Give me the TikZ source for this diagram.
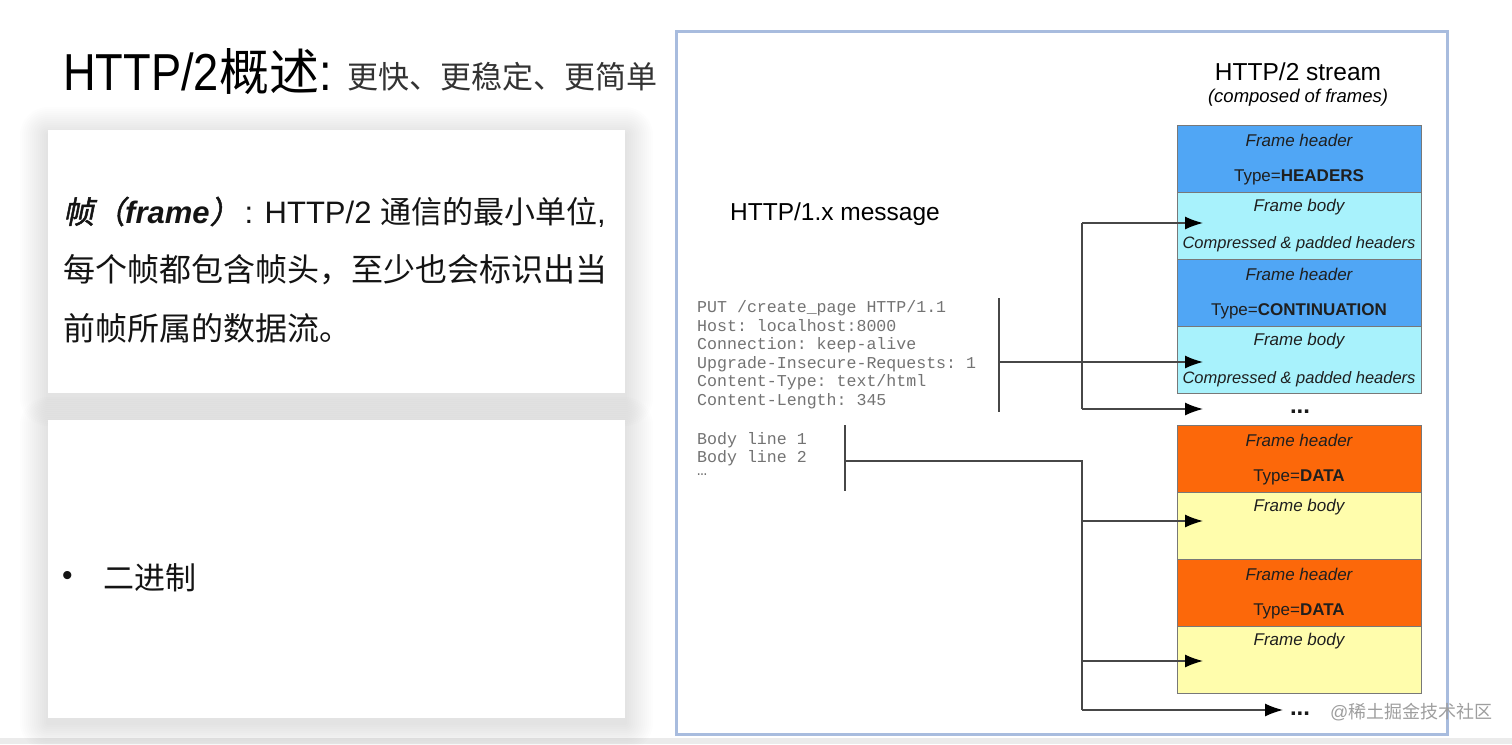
\documentclass[tikz,border=0pt]{standalone}
\usepackage{fontspec}
\setmainfont{Liberation Sans}
\setmonofont{Liberation Mono}
\newfontfamily\cjk{Noto Sans CJK SC}
\newfontfamily\cjkbi[FakeSlant=0.2,FakeBold=1.5]{Noto Sans CJK SC}
\newfontfamily\narrowsans[FakeStretch=0.87]{Liberation Sans}
\usetikzlibrary{arrows.meta}
\definecolor{hblue}{RGB}{80,166,245}
\definecolor{bcyan}{RGB}{168,242,252}
\definecolor{horange}{RGB}{252,104,10}
\definecolor{byellow}{RGB}{255,253,172}
\definecolor{panelblue}{RGB}{168,188,222}
\definecolor{framegray}{RGB}{120,120,120}
\begin{document}
\begin{tikzpicture}[x=1pt,y=-1pt,
  framebox/.style={draw=framegray, line width=1pt, minimum width=244pt, minimum height=67pt, inner sep=0pt},
  hdrB/.style={framebox, fill=hblue},
  bodyC/.style={framebox, fill=bcyan},
  hdrO/.style={framebox, fill=horange},
  bodyY/.style={framebox, fill=byellow},
  ftxt/.style={font=\fontsize{17}{20}\selectfont, text=black!88, inner sep=0pt},
  mono/.style={font=\ttfamily\fontsize{16.6}{19}\selectfont, text=black!55, anchor=west, inner sep=0pt},
  conn/.style={draw=black!72, line width=1.5pt},
  arr/.style={conn, -{Latex[length=18pt,width=13pt,color=black]}},
  card/.style={fill=white, draw=none},
  cardtxt/.style={anchor=west, inner sep=0pt, text=black!92},
  dots/.style={font=\fontsize{24}{26}\selectfont\bfseries, inner sep=0pt, text=black!90, anchor=base},
]
\useasboundingbox (0,0) rectangle (1512,744);
\fill[white] (0,0) rectangle (1512,744);
% bottom strip
\fill[black!8] (0,738) rectangle (1512,744);

% card shadows (soft)
\foreach \i in {1,...,14} {
  \fill[black, opacity=0.007, rounded corners=2*\i pt] (48-2*\i,130-2*\i+5) rectangle (625+2*\i,393+2*\i+5);
  \fill[black, opacity=0.007, rounded corners=2*\i pt] (48-2*\i,420-2*\i+5) rectangle (625+2*\i,718+2*\i+5);
}
\fill[card] (48,130) rectangle (625,393);
\fill[card] (48,420) rectangle (625,718);

% title
\node[anchor=base west, inner sep=0pt] (title) at (63,90)
  {\fontsize{52}{56}\selectfont\narrowsans HTTP/2{\cjk\fontsize{50}{56}\selectfont 概述}:};
\node[anchor=base west, inner sep=0pt, text=black!80] (subtitle) at (347,88)
  {\cjk\fontsize{31}{34}\selectfont 更快、更稳定、更简单};

% card 1 text
\node[cardtxt] (c1l1) at (63,212)
  {\fontsize{31}{36}\selectfont{\cjkbi 帧（}{\bfseries\itshape frame}{\cjkbi ）}\hspace{4pt}: HTTP/2 {\cjk 通信的最小单位},};
\node[cardtxt] (c1l2) at (63,270)
  {\cjk\fontsize{32}{36}\selectfont 每个帧都包含帧头，至少也会标识出当};
\node[cardtxt] (c1l3) at (63,328)
  {\cjk\fontsize{32}{36}\selectfont 前帧所属的数据流。};

% card 2 text
\node[cardtxt] (bullet) at (62,578) {\fontsize{30}{34}\selectfont •};
\node[cardtxt] (c2l1) at (103,578) {\cjk\fontsize{31}{34}\selectfont 二进制};

% right panel
\fill[white] (676,31) rectangle (1447,734);
\draw[panelblue, line width=3pt] (676,31) rectangle (1447,734);

\node[inner sep=0pt] (streamtitle) at (1298,72) {\fontsize{24.5}{28}\selectfont HTTP/2 stream};
\node[inner sep=0pt] (streamsub) at (1298,98) {\fontsize{18.5}{22}\selectfont\itshape (composed of frames)};
\node[anchor=west, inner sep=0pt] (msgtitle) at (730,214) {\fontsize{24.5}{28}\selectfont HTTP/1.x message};

% HTTP/1.x message text
\node[mono] (m1) at (697,308) {PUT /create\_page HTTP/1.1};
\node[mono] (m2) at (697,326) {Host: localhost:8000};
\node[mono] (m3) at (697,345) {Connection: keep-alive};
\node[mono] (m4) at (697,364) {Upgrade-Insecure-Requests: 1};
\node[mono] (m5) at (697,382) {Content-Type: text/html};
\node[mono] (m6) at (697,401) {Content-Length: 345};
\node[mono] (m7) at (697,440) {Body line 1};
\node[mono] (m8) at (697,458) {Body line 2};
\node[mono] (m9) at (697,475) {…};

% frames
\node[hdrB] (h1) at (1299,158.5) {};
\node[bodyC] (b1) at (1299,225.5) {};
\node[hdrB] (h2) at (1299,292.5) {};
\node[bodyC] (b2) at (1299,359.5) {};
\node[hdrO] (h3) at (1299,458.5) {};
\node[bodyY] (b3) at (1299,525.5) {};
\node[hdrO] (h4) at (1299,592.5) {};
\node[bodyY] (b4) at (1299,659.5) {};

\node[ftxt] (h1a) at (1299,140) {\itshape Frame header};
\node[ftxt] (h1b) at (1299,177) {Type=\textbf{HEADERS}};
\node[ftxt] (b1a) at (1299,207) {\itshape Frame body};
\node[ftxt, font=\fontsize{16.5}{20}\selectfont] (b1b) at (1299,244) {\itshape Compressed \& padded headers};
\node[ftxt] (h2a) at (1299,274) {\itshape Frame header};
\node[ftxt] (h2b) at (1299,311) {Type=\textbf{CONTINUATION}};
\node[ftxt] (b2a) at (1299,341) {\itshape Frame body};
\node[ftxt, font=\fontsize{16.5}{20}\selectfont] (b2b) at (1299,379) {\itshape Compressed \& padded headers};
\node[ftxt] (h3a) at (1299,440) {\itshape Frame header};
\node[ftxt] (h3b) at (1299,477) {Type=\textbf{DATA}};
\node[ftxt] (b3a) at (1299,507) {\itshape Frame body};
\node[ftxt] (h4a) at (1299,574) {\itshape Frame header};
\node[ftxt] (h4b) at (1299,611) {Type=\textbf{DATA}};
\node[ftxt] (b4a) at (1299,641) {\itshape Frame body};

\node[dots] (dots1) at (1300,413) {...};
\node[dots] (dots2) at (1300,715) {...};

% connector coordinates
\coordinate (a1) at (999,298);
\coordinate (a2) at (999,412);
\coordinate (am) at (999,362);
\coordinate (j1) at (1082,223);
\coordinate (j2) at (1082,409);
\coordinate (bb1) at (845,425);
\coordinate (bb2) at (845,491);
\coordinate (bm) at (845,461);
\coordinate (k1) at (1082,461);
\coordinate (k2) at (1082,710);
\coordinate (k3) at (1082,521);
\coordinate (k4) at (1082,661);
\coordinate (t1) at (1203,223);
\coordinate (t2) at (1203,362);
\coordinate (t3) at (1203,409);
\coordinate (t4) at (1203,521);
\coordinate (t5) at (1203,661);
\coordinate (t6) at (1283,710);

% headers bracket
\draw[conn] (a1) -- (a2);
\draw[arr] (am) -- (t2);
\draw[conn] (j1) -- (j2);
\draw[arr] (j1) -- (t1);
\draw[arr] (j2) -- (t3);
% body bracket
\draw[conn] (bb1) -- (bb2);
\draw[conn] (bm) -- (k1) -- (k2);
\draw[arr] (k3) -- (t4);
\draw[arr] (k4) -- (t5);
\draw[arr] (k2) -- (t6);

% watermark
\node[anchor=west, inner sep=0pt, text=black!38] (wm) at (1330,712)
  {\fontsize{18}{22}\selectfont @{\cjk 稀土掘金技术社区}};
\end{tikzpicture}
\end{document}
